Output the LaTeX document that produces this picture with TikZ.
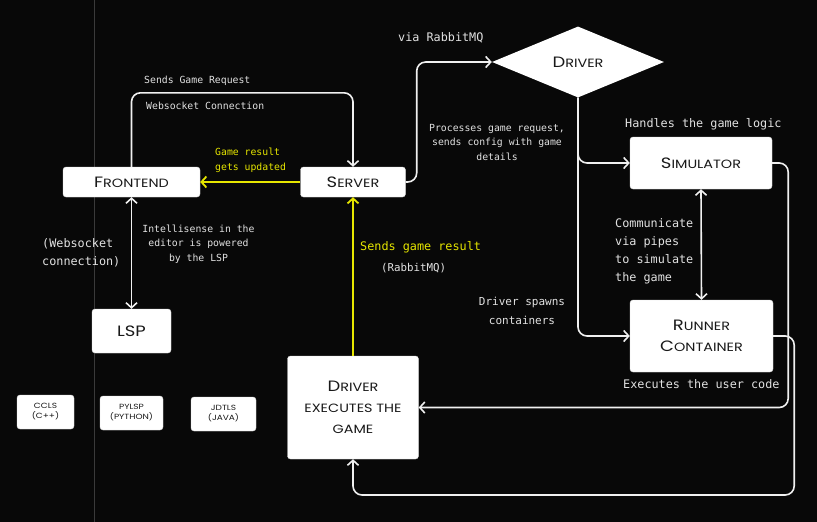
\documentclass[tikz,border=0pt]{standalone}
\usepackage{fontspec}
\usepackage{xcolor}
\usetikzlibrary{shapes.geometric,arrows.meta}
\setmonofont{DejaVu Sans Mono}
\newfontfamily\boxfont[FakeStretch=1.2]{Poppins}
\definecolor{bgdark}{HTML}{080808}
\definecolor{railgrey}{HTML}{3A3A3A}
\definecolor{labelgrey}{HTML}{E2E2E2}
\definecolor{resultyellow}{HTML}{E6E600}
\newcommand{\capword}[2]{{\fontsize{15}{21}\selectfont #1}{\fontsize{12}{21}\selectfont #2}}
\newcommand{\lowcaps}[1]{{\fontsize{12}{21}\selectfont #1}}

\begin{document}
\begin{tikzpicture}[x=1pt, y=-1pt,
    box/.style={fill=white, draw=white!85!black, rounded corners=3pt, inner sep=0pt, align=center, text=black!90, font=\boxfont\fontsize{12}{21}\selectfont},
    langbox/.style={box, font=\boxfont\fontsize{7.5}{10}\selectfont},
    wire/.style={draw=white!94!black, line width=1.6pt, rounded corners=9pt},
    arrowed/.style={-{Straight Barb[length=5pt,width=11pt]}},
    twoway/.style={{Straight Barb[length=5pt,width=11pt]}-{Straight Barb[length=5pt,width=11pt]}},
    yellowwire/.style={draw=resultyellow, line width=1.8pt},
    note/.style={text=labelgrey, inner sep=0pt, font=\ttfamily\fontsize{9.8}{14.5}\selectfont},
    bignote/.style={note, font=\ttfamily\fontsize{11.8}{18}\selectfont}]
    \useasboundingbox (0,0) rectangle (817,522);
    \fill[bgdark] (0,0) rectangle (817,522);
    \draw[railgrey, line width=0.8pt] (94.5,0) -- (94.5,522);

    \node[box, minimum width=137pt, minimum height=30pt] (frontend) at (131.5,182) {\capword{F}{RONTEND}};
    \node[box, minimum width=105pt, minimum height=30pt] (server) at (353,182) {\capword{S}{ERVER}};
    \node[diamond, fill=white, inner sep=0pt, minimum width=172pt, minimum height=71pt, text=black!90, font=\boxfont] (driver) at (578,62) {\capword{D}{RIVER}};
    \node[box, minimum width=142pt, minimum height=52pt] (simulator) at (701,163) {\capword{S}{IMULATOR}};
    \node[box, minimum width=143pt, minimum height=72pt] (runner) at (701.5,336) {\capword{R}{UNNER}\\\capword{C}{ONTAINER}};
    \node[box, minimum width=79pt, minimum height=44pt] (lsp) at (131.5,331) {\fontsize{15}{21}\selectfont LSP};
    \node[box, minimum width=131pt, minimum height=103pt] (executor) at (353,407.5) {\capword{D}{RIVER}\\\lowcaps{EXECUTES THE}\\\lowcaps{GAME}};
    \node[langbox, minimum width=57pt, minimum height=34pt] (ccls) at (45.5,412) {CCLS\\(C++)};
    \node[langbox, minimum width=63pt, minimum height=34pt] (pylsp) at (131.5,413) {PYLSP\\(PYTHON)};
    \node[langbox, minimum width=65pt, minimum height=34pt] (jdtls) at (223.5,414) {JDTLS\\(JAVA)};

    \draw[wire, arrowed] (frontend.north) -- ++(0,-74) -| (server.north);
    \draw[yellowwire, arrowed] (server.west) -- (frontend.east);
    \draw[wire, arrowed] (server.east) -- ++(11,0) |- (driver.west);
    \draw[wire, arrowed] (driver.south) |- (simulator.west);
    \draw[wire, arrowed] (driver.south) |- (runner.west);
    \draw[wire, twoway] (simulator.south) -- (runner.north);
    \draw[wire, arrowed] (simulator.east) -- ++(16,0) |- (executor.east);
    \draw[wire, arrowed] (runner.east) -- ++(21,0) -- ++(0,159) -| (executor.south);
    \draw[yellowwire, arrowed] (executor.north) -- (server.south);
    \draw[wire, twoway] (frontend.south) -- (lsp.north);

    \node[note, anchor=west] (request-note) at (144,81) {Sends Game Request};
    \node[note, anchor=west] (socket-note) at (146,106) {Websocket Connection};
    \node[note, anchor=west, align=left, text=resultyellow] (update-note) at (215,160.5) {Game result\\gets updated};
    \node[bignote, anchor=west] (queue-note) at (398,38) {via RabbitMQ};
    \node[note, align=center] (process-note) at (497,142) {Processes game request,\\sends config with game\\details};
    \node[bignote, anchor=west] (logic-note) at (625,124) {Handles the game logic};
    \node[bignote, anchor=west, align=left] (pipe-note) at (615,251.5) {Communicate\\via pipes\\to simulate\\the game};
    \node[note, align=center, font=\ttfamily\fontsize{11}{18.5}\selectfont] (spawn-note) at (522,311) {Driver spawns\\containers};
    \node[bignote, anchor=west] (user-note) at (623,384) {Executes the user code};
    \node[bignote, anchor=west, text=resultyellow] (result-note) at (360,247) {Sends game result};
    \node[note, anchor=west, font=\ttfamily\fontsize{10.8}{14}\selectfont] (result-queue) at (381,268) {(RabbitMQ)};
    \node[note, align=center] (lsp-note) at (198.5,244) {Intellisense in the\\editor is powered\\by the LSP};
    \node[bignote, anchor=west, align=left] (socket-tag) at (42,253) {(Websocket\\connection)};
\end{tikzpicture}
\end{document}
